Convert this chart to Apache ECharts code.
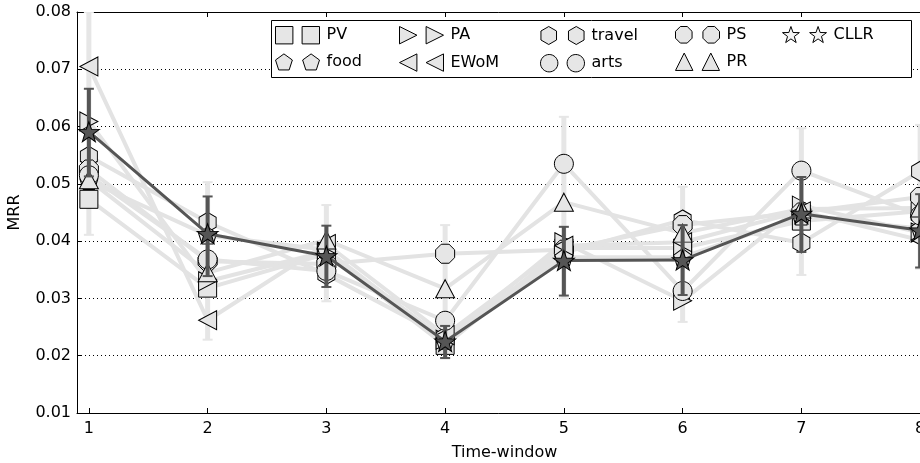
<!DOCTYPE html>
<html>
<head>
<meta charset="utf-8">
<script src="https://cdn.jsdelivr.net/npm/echarts@6/dist/echarts.min.js"></script>
<style>html,body{margin:0;padding:0;background:#fff;}#c{width:920px;height:463px;}</style>
</head>
<body>
<div id="c"></div>
<script>
// ---- data ----
const timeWindows = [1, 2, 3, 4, 5, 6, 7, 8];
const PV     = [0.0473, 0.0318, 0.0378, 0.0218, 0.0388, 0.0388, 0.0435, 0.0452];
const PA     = [0.0609, 0.0330, 0.0382, 0.0228, 0.0398, 0.0296, 0.0462, 0.0415];
const travel = [0.0548, 0.0433, 0.0342, 0.0232, 0.0380, 0.0437, 0.0397, 0.0522];
const PS     = [0.0525, 0.0365, 0.0360, 0.0378, 0.0385, 0.0428, 0.0450, 0.0477];
const food   = [0.0505, 0.0410, 0.0385, 0.0226, 0.0372, 0.0372, 0.0443, 0.0422];
const EWoM   = [0.0705, 0.0262, 0.0395, 0.0236, 0.0392, 0.0398, 0.0452, 0.0402];
const arts   = [0.0515, 0.0368, 0.0348, 0.0261, 0.0535, 0.0313, 0.0523, 0.0445];
const PR     = [0.0507, 0.0345, 0.0402, 0.0317, 0.0468, 0.0414, 0.0456, 0.0458];
const CLLR   = [0.0591, 0.0413, 0.0374, 0.0225, 0.0366, 0.0367, 0.0448, 0.0419];
const CLLR_low  = [0.0513, 0.0339, 0.0320, 0.0196, 0.0305, 0.0306, 0.0381, 0.0354];
const CLLR_high = [0.0666, 0.0478, 0.0427, 0.0252, 0.0425, 0.0428, 0.0512, 0.0482];
const spread_low  = [0.0411, 0.0228, 0.0295, 0.0195, 0.0300, 0.0259, 0.0341, 0.0352];
const spread_high = [0.0800, 0.0503, 0.0463, 0.0428, 0.0617, 0.0495, 0.0597, 0.0603];
const xTickValues = [1, 2, 3, 4, 5, 6, 7, 8];

// ---- marker shapes ----
function poly(pts, cx, cy, s) {
  return pts.map((p, i) => (i ? 'L' : 'M') + (cx + p[0] * s).toFixed(2) + ',' + (cy + p[1] * s).toFixed(2)).join('') + 'Z';
}
function regular(n, startDeg) {
  const a = [];
  for (let k = 0; k < n; k++) {
    const t = (startDeg + 360 * k / n) * Math.PI / 180;
    a.push([Math.cos(t), -Math.sin(t)]);
  }
  return a;
}
function starPts() {
  const a = [];
  for (let k = 0; k < 10; k++) {
    const r = k % 2 ? 0.4 : 1;
    const t = (90 + 36 * k) * Math.PI / 180;
    a.push([r * Math.cos(t), -r * Math.sin(t)]);
  }
  return a;
}
const shapes = {
  square: [[-1, -1], [1, -1], [1, 1], [-1, 1]],
  right: [[-1, -1], [1, 0], [-1, 1]],
  left: [[1, -1], [-1, 0], [1, 1]],
  up: [[0, -1], [1, 1], [-1, 1]],
  hex: regular(6, 90),
  oct: regular(8, 22.5),
  pent: regular(5, 90),
  circle: regular(32, 0),
  star: starPts()
};
function sym(name) { return 'path://' + poly(shapes[name], 0, 0, 100); }
function legendSym(name) {
  return 'path://' + poly(shapes[name], 9, 9, 8.5) + poly(shapes[name], 35, 9, 8.5);
}

const lightSeries = [
  { name: 'PV', data: PV, shape: 'square', size: [18, 18] },
  { name: 'PA', data: PA, shape: 'right', size: [18, 19] },
  { name: 'travel', data: travel, shape: 'hex', size: [17, 20] },
  { name: 'PS', data: PS, shape: 'oct', size: [19, 19] },
  { name: 'food', data: food, shape: 'pent', size: [18, 17] },
  { name: 'EWoM', data: EWoM, shape: 'left', size: [18, 19] },
  { name: 'arts', data: arts, shape: 'circle', size: [19, 19] },
  { name: 'PR', data: PR, shape: 'up', size: [19, 18] }
];

function errRender(color, width, capHalf) {
  return function (params, api) {
    const x = api.value(0);
    const lo = api.coord([x, api.value(1)]);
    const hi = api.coord([x, api.value(2)]);
    const st = { stroke: color, lineWidth: width };
    return {
      type: 'group',
      children: [
        { type: 'line', shape: { x1: lo[0], y1: lo[1], x2: hi[0], y2: hi[1] }, style: st },
        { type: 'line', shape: { x1: lo[0] - capHalf, y1: lo[1], x2: lo[0] + capHalf, y2: lo[1] }, style: { stroke: color, lineWidth: 2 } },
        { type: 'line', shape: { x1: hi[0] - capHalf, y1: hi[1], x2: hi[0] + capHalf, y2: hi[1] }, style: { stroke: color, lineWidth: 2 } }
      ]
    };
  };
}

const FONT = 'DejaVu Sans';
const series = [];
series.push({
  name: 'spread', type: 'custom', clip: true, silent: true, z: 1,
  renderItem: errRender('#e6e6e6', 5, 5),
  data: timeWindows.map((x, i) => [x, spread_low[i], spread_high[i]])
});
lightSeries.forEach(s => {
  series.push({
    name: s.name, type: 'line', z: 2,
    data: timeWindows.map((x, i) => [x, s.data[i]]),
    symbol: sym(s.shape), symbolSize: s.size, symbolKeepAspect: false,
    showAllSymbol: true,
    lineStyle: { color: '#e3e3e3', width: 4 },
    itemStyle: { color: '#e6e6e6', borderColor: '#000', borderWidth: 1 },
    emphasis: { disabled: true }
  });
});
series.push({
  name: 'CLLRerr', type: 'custom', clip: true, silent: true, z: 3,
  renderItem: errRender('#555555', 4, 5),
  data: timeWindows.map((x, i) => [x, CLLR_low[i], CLLR_high[i]])
});
series.push({
  name: 'CLLR', type: 'line', z: 4,
  data: timeWindows.map((x, i) => [x, CLLR[i]]),
  symbol: sym('star'), symbolSize: [21, 20],
  lineStyle: { color: '#555555', width: 3 },
  itemStyle: { color: '#555555', borderColor: '#000', borderWidth: 1 },
  emphasis: { disabled: true }
});

function legendCol(left, names) {
  return {
    orient: 'vertical', left: left, top: 26, z: 6, padding: 0,
    itemWidth: 44, itemHeight: 18, itemGap: 9,
    selectedMode: false,
    textStyle: { fontFamily: FONT, fontSize: 16, color: '#000', padding: [0, 0, 0, 2] },
    data: names.map(n => ({
      name: n,
      icon: legendSym((lightSeries.find(s => s.name === n) || { shape: 'star' }).shape),
      itemStyle: { color: n === 'CLLR' ? '#f4f4f4' : '#e6e6e6', borderColor: '#000', borderWidth: 1 }
    }))
  };
}

const option = {
  animation: false,
  backgroundColor: '#fff',
  grid: { left: 77, top: 12, width: 855, height: 401, outerBoundsMode: 'none', containLabel: false },
  xAxis: [{
    type: 'value', min: 0.9, max: 8.1, position: 'bottom',
    name: 'Time-window', nameLocation: 'middle', nameGap: 32,
    nameTextStyle: { fontFamily: FONT, fontSize: 16, color: '#000' },
    axisLine: { lineStyle: { color: '#000', width: 1 } },
    axisTick: { inside: true, length: 5, customValues: xTickValues, lineStyle: { color: '#000' } },
    axisLabel: { customValues: xTickValues, fontFamily: FONT, fontSize: 16, color: '#000', margin: 8 },
    splitLine: { show: false }
  }, {
    type: 'value', min: 0.9, max: 8.1, position: 'top',
    axisLine: { lineStyle: { color: '#000', width: 1 } },
    axisTick: { inside: true, length: 5, customValues: xTickValues, lineStyle: { color: '#000' } },
    axisLabel: { show: false },
    splitLine: { show: false }
  }],
  yAxis: {
    type: 'value', min: 0.01, max: 0.08, interval: 0.01,
    name: 'MRR', nameLocation: 'middle', nameGap: 54,
    nameTextStyle: { fontFamily: FONT, fontSize: 16, color: '#000' },
    axisLine: { show: true, lineStyle: { color: '#000', width: 1 } },
    axisTick: { show: true, inside: true, length: 5, lineStyle: { color: '#000' } },
    axisLabel: { fontFamily: FONT, fontSize: 16, color: '#000', margin: 6, formatter: v => v.toFixed(2) },
    splitLine: { show: true, lineStyle: { color: '#000', width: 1, type: [1, 3] } }
  },
  legend: [
    legendCol(275, ['PV', 'food']),
    legendCol(399, ['PA', 'EWoM']),
    legendCol(540, ['travel', 'arts']),
    legendCol(675, ['PS', 'PR']),
    legendCol(782, ['CLLR'])
  ],
  graphic: [{
    type: 'rect', z: 5, silent: true,
    shape: { x: 271.5, y: 20.5, width: 640, height: 57 },
    style: { fill: '#fff', stroke: '#000', lineWidth: 1 }
  }],
  series: series
};
const chart = echarts.init(document.getElementById('c'), null, { renderer: 'canvas' });
chart.setOption(option);
</script>
</body>
</html>
